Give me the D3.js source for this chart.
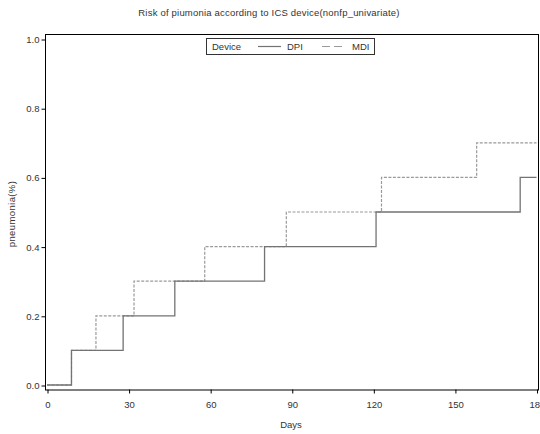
<!DOCTYPE html>
<html>
<head>
<meta charset="utf-8">
<script src="https://cdn.jsdelivr.net/npm/d3@7/dist/d3.min.js"></script>
<style>
  html, body { margin: 0; padding: 0; background: #fff; }
  svg { display: block; font-family: "Liberation Sans", Arial, sans-serif; }
</style>
</head>
<body>
<svg id="chart" width="540" height="434"></svg>
<script>
// Step-function event times (days) and cumulative risk for each device
const dpiDays = [0, 9, 28, 47, 80, 121, 174, 180];
const dpiRisk = [0.0, 0.1, 0.2, 0.3, 0.4, 0.5, 0.6, 0.6];
const mdiDays = [0, 9, 18, 32, 58, 88, 123, 158, 180];
const mdiRisk = [0.0, 0.1, 0.2, 0.3, 0.4, 0.5, 0.6, 0.7, 0.7];

const xTicks = [0, 30, 60, 90, 120, 150, 180];
const yTicks = [0.0, 0.2, 0.4, 0.6, 0.8, 1.0];

const titleText = "Risk of piumonia according to ICS device(nonfp_univariate)";
const xLabel = "Days";
const yLabel = "pneumonia(%)";
const legendTitle = "Device";
const seriesNames = ["DPI", "MDI"];

const svg = d3.select("#chart");
const fontSize = 9.5;

// frame of the plotting area
const frame = { left: 45, right: 538, top: 34, bottom: 389.5 };

const x = d3.scaleLinear().domain([0, 180]).range([47, 536.5]);
const y = d3.scaleLinear().domain([0, 1]).range([385, 39]);

// plot area border
svg.append("rect")
  .attr("x", frame.left + 0.5).attr("y", frame.top + 0.5)
  .attr("width", frame.right - frame.left).attr("height", frame.bottom - frame.top)
  .attr("fill", "none").attr("stroke", "#000").attr("stroke-width", 1);

// axes
const xAxis = d3.axisBottom(x).tickValues(xTicks).tickSize(4).tickPadding(8)
  .tickFormat(d3.format("d"));
const gx = svg.append("g").attr("transform", `translate(0.5,${frame.bottom})`).call(xAxis);
gx.select(".domain").remove();

const yAxis = d3.axisLeft(y).tickValues(yTicks).tickSize(4).tickPadding(2)
  .tickFormat(d3.format(".1f"));
const gy = svg.append("g").attr("transform", `translate(${frame.left + 0.5},0.5)`).call(yAxis);
gy.select(".domain").remove();

svg.selectAll(".tick text").attr("font-size", fontSize).attr("fill", "#333")
  .attr("font-family", "'Liberation Sans', Arial, sans-serif");
svg.selectAll(".tick line").attr("stroke", "#000");

// step lines
const stepLine = d3.line()
  .x(d => x(d[0]))
  .y(d => y(d[1]))
  .curve(d3.curveStepAfter);

const dpiPts = dpiDays.map((d, i) => [d, dpiRisk[i]]);
const mdiPts = mdiDays.map((d, i) => [d, mdiRisk[i]]);

svg.append("path").datum(mdiPts)
  .attr("d", stepLine).attr("fill", "none")
  .attr("stroke", "#9a9a9a").attr("stroke-width", 1.2)
  .attr("stroke-dasharray", "3,1.5");

svg.append("path").datum(dpiPts)
  .attr("d", stepLine).attr("fill", "none")
  .attr("stroke", "#737373").attr("stroke-width", 1.3);

// title and axis labels
svg.append("text").attr("x", 269).attr("y", 16).attr("text-anchor", "middle")
  .attr("font-size", fontSize).attr("letter-spacing", 0.2).attr("fill", "#333").text(titleText);

svg.append("text").attr("x", 291).attr("y", 428).attr("text-anchor", "middle")
  .attr("font-size", fontSize).attr("fill", "#333").text(xLabel);

svg.append("text")
  .attr("transform", "translate(15,214) rotate(-90)")
  .attr("text-anchor", "middle").attr("font-size", fontSize).attr("letter-spacing", 0.4)
  .attr("fill", "#333").text(yLabel);

// legend
const lg = svg.append("g");
lg.append("rect").attr("x", 206.5).attr("y", 38.5).attr("width", 168).attr("height", 16)
  .attr("fill", "#fff").attr("stroke", "#333").attr("stroke-width", 1);
lg.append("text").attr("x", 212).attr("y", 50).attr("font-size", fontSize).attr("fill", "#333")
  .text(legendTitle);
lg.append("line").attr("x1", 258).attr("x2", 281).attr("y1", 46.5).attr("y2", 46.5)
  .attr("stroke", "#737373").attr("stroke-width", 1.2);
lg.append("text").attr("x", 287).attr("y", 50).attr("font-size", fontSize).attr("fill", "#333")
  .text(seriesNames[0]);
lg.append("line").attr("x1", 322).attr("x2", 344).attr("y1", 46.5).attr("y2", 46.5)
  .attr("stroke", "#9a9a9a").attr("stroke-width", 1.2).attr("stroke-dasharray", "8,4");
lg.append("text").attr("x", 352).attr("y", 50).attr("font-size", fontSize).attr("fill", "#333")
  .text(seriesNames[1]);
</script>
</body>
</html>
